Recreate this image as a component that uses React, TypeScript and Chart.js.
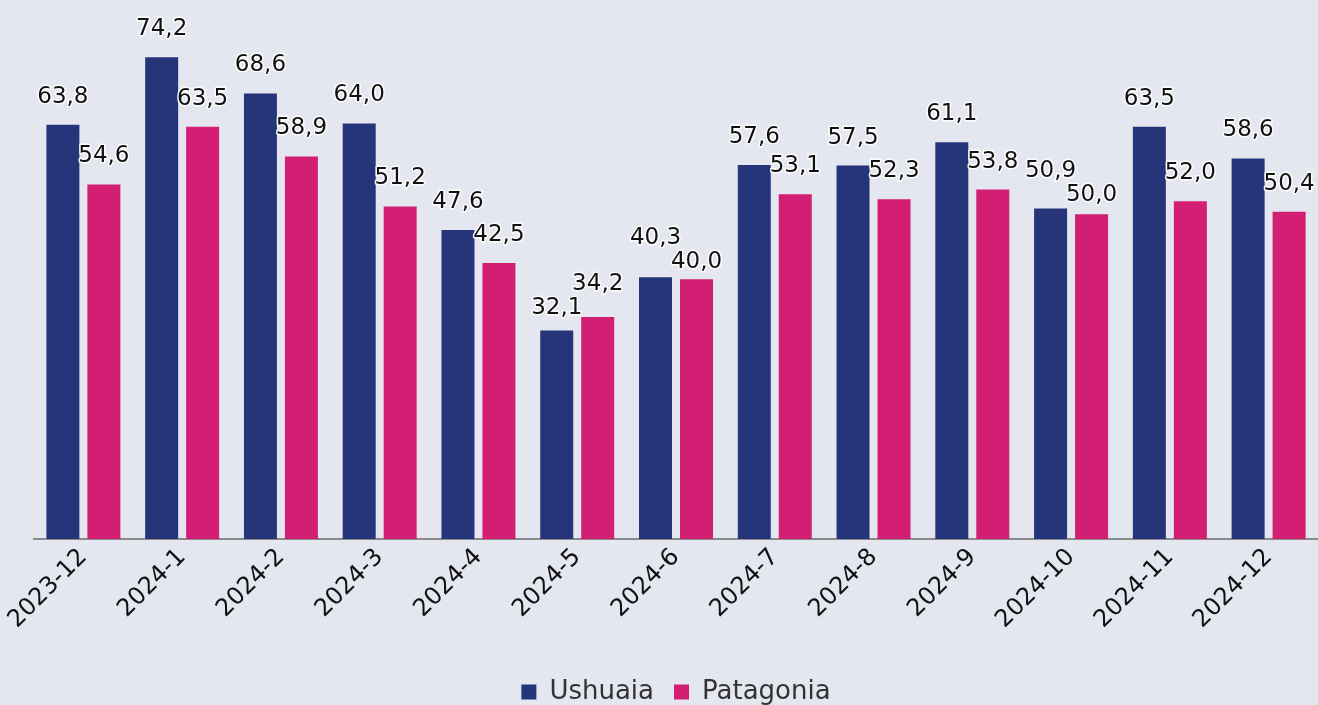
import React, { useEffect, useRef } from "react";
import { Chart, registerables } from "chart.js";

Chart.register(...registerables);

const categories = ["2023-12", "2024-1", "2024-2", "2024-3", "2024-4", "2024-5", "2024-6", "2024-7", "2024-8", "2024-9", "2024-10", "2024-11", "2024-12"];
const ushuaia = [63.8, 74.2, 68.6, 64.0, 47.6, 32.1, 40.3, 57.6, 57.5, 61.1, 50.9, 63.5, 58.6];
const patagonia = [54.6, 63.5, 58.9, 51.2, 42.5, 34.2, 40.0, 53.1, 52.3, 53.8, 50.0, 52.0, 50.4];

const BG = "#e4e7ef";
const FONT = "'DejaVu Sans', sans-serif";

const labelPlugin = {
  id: "barLabels",
  afterDatasetsDraw(chart: any) {
    const ctx = chart.ctx;
    ctx.save();
    ctx.font = `23px ${FONT}`;
    ctx.textAlign = "center";
    ctx.textBaseline = "middle";
    ctx.lineJoin = "round";
    const m0 = chart.getDatasetMeta(0);
    const m1 = chart.getDatasetMeta(1);
    const n = chart.data.labels.length;
    const minGap = 24;
    for (let j = 0; j < n; j++) {
      const b0 = m0.data[j];
      const b1 = m1.data[j];
      let y0 = b0.y - 28;
      let y1 = b1.y - 28;
      if (Math.abs(y0 - y1) < minGap) {
        const mid = (y0 + y1) / 2;
        if (y0 <= y1) {
          y0 = mid - minGap / 2;
          y1 = mid + minGap / 2;
        } else {
          y1 = mid - minGap / 2;
          y0 = mid + minGap / 2;
        }
      }
      const items = [
        { x: b0.x, y: y0, v: chart.data.datasets[0].data[j] },
        { x: b1.x, y: y1, v: chart.data.datasets[1].data[j] },
      ];
      items.forEach((it) => {
        const txt = Number(it.v).toFixed(1).replace(".", ",");
        ctx.strokeStyle = "rgba(255,255,255,0.9)";
        ctx.lineWidth = 3;
        ctx.strokeText(txt, it.x, it.y);
        ctx.fillStyle = "#111111";
        ctx.fillText(txt, it.x, it.y);
      });
    }
    ctx.restore();
  },
};

const bgPlugin = {
  id: "bg",
  beforeDraw(chart: any) {
    const ctx = chart.ctx;
    ctx.save();
    ctx.fillStyle = BG;
    ctx.fillRect(0, 0, chart.width, chart.height);
    ctx.restore();
  },
};

export default function App() {
  const ref = useRef<HTMLCanvasElement>(null);
  useEffect(() => {
    if (!ref.current) return;
    const chart = new Chart(ref.current, {
      type: "bar",
      data: {
        labels: categories,
        datasets: [
          { label: "Ushuaia", data: ushuaia, backgroundColor: "#26357a" },
          { label: "Patagonia", data: patagonia, backgroundColor: "#d31f73" },
        ],
      },
      options: {
        responsive: false,
        animation: false,
        layout: { padding: { left: 34, right: 0, top: 0, bottom: -10 } },
        datasets: { bar: { categoryPercentage: 0.83, barPercentage: 0.805 } },
        scales: {
          x: {
            grid: { display: false, drawTicks: false },
            border: { display: true, color: "#8a8a8a", width: 2 },
            ticks: {
              color: "#111111",
              font: { family: FONT, size: 24 },
              minRotation: 45,
              maxRotation: 45,
              padding: 4,
            },
            afterFit: (scale: any) => {
              scale.height = 120;
            },
          },
          y: { display: false, min: 0, max: 83 },
        },
        plugins: {
          legend: {
            position: "bottom",
            labels: {
              color: "#333333",
              font: { family: FONT, size: 26 },
              boxWidth: 15,
              boxHeight: 15,
              padding: 20,
            },
          },
          tooltip: { enabled: false },
        },
      },
      plugins: [bgPlugin, labelPlugin],
    });
    return () => chart.destroy();
  }, []);
  return (
    <div style={{ position: "fixed", left: 0, top: 0, width: 1318, height: 705, background: BG }}>
      <canvas ref={ref} width={1318} height={705} />
    </div>
  );
}
